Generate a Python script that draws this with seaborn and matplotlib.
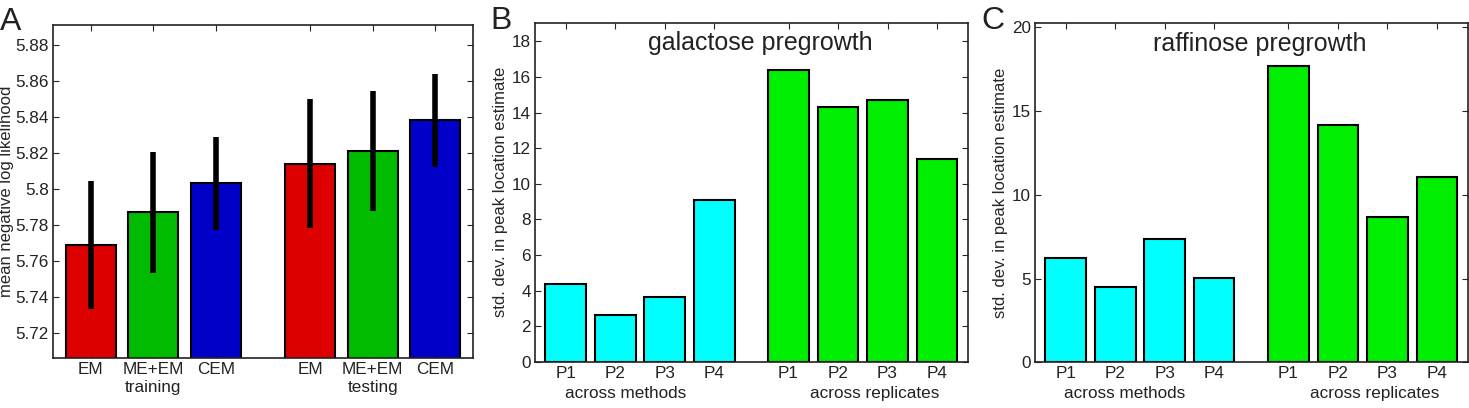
import matplotlib
matplotlib.use('Agg')
import matplotlib.pyplot as plt
import pandas as pd
import seaborn as sns

# panel A: mean negative log likelihood, training and testing
a_pos = [1, 2, 3, 4.5, 5.5, 6.5]
a_labels = ['EM', 'ME+EM', 'CEM', 'EM', 'ME+EM', 'CEM']
a_method = ['EM', 'ME+EM', 'CEM', 'EM', 'ME+EM', 'CEM']
a_vals = [5.769, 5.787, 5.803, 5.814, 5.821, 5.838]
a_err = [0.0355, 0.0335, 0.026, 0.036, 0.0335, 0.026]
a_groups = ['training', 'testing']
a_group_x = [2, 5.5]
a_yticks = [5.72, 5.74, 5.76, 5.78, 5.80, 5.82, 5.84, 5.86, 5.88]
a_yticklabels = ['5.72', '5.74', '5.76', '5.78', '5.8', '5.82', '5.84', '5.86', '5.88']

# panels B and C: std. dev. in peak location estimate
bc_pos = [1, 2, 3, 4, 5.5, 6.5, 7.5, 8.5]
bc_labels = ['P1', 'P2', 'P3', 'P4', 'P1', 'P2', 'P3', 'P4']
bc_kind = ['methods'] * 4 + ['replicates'] * 4
bc_groups = ['across methods', 'across replicates']
bc_group_x = [2.2, 7.25]
gal_vals = [4.35, 2.62, 3.66, 9.06, 16.4, 14.34, 14.72, 11.38]
raf_vals = [6.21, 4.48, 7.38, 5.06, 17.71, 14.17, 8.66, 11.08]

a_colors = {'EM': '#dd0000', 'ME+EM': '#00bb00', 'CEM': '#0000c8'}
bc_colors = {'methods': '#00ffff', 'replicates': '#00ee00'}

sns.set_style('ticks')
plt.rcParams['font.family'] = ['Liberation Sans', 'DejaVu Sans']
plt.rcParams['xtick.direction'] = 'in'
plt.rcParams['ytick.direction'] = 'in'
plt.rcParams['xtick.top'] = True
plt.rcParams['ytick.right'] = True
plt.rcParams['xtick.major.size'] = 4
plt.rcParams['ytick.major.size'] = 4
plt.rcParams['axes.linewidth'] = 1.2
plt.rcParams['axes.edgecolor'] = '#222222'
plt.rcParams['text.color'] = '#222222'
plt.rcParams['xtick.labelcolor'] = '#222222'
plt.rcParams['ytick.labelcolor'] = '#222222'

tick_fs = 12.3
lab_fs = 12
fig = plt.figure(figsize=(14.69, 4.08), dpi=100)
axA = fig.add_axes([0.0361, 0.1225, 0.2859, 0.8162])
axB = fig.add_axes([0.3642, 0.1135, 0.2946, 0.8309])
axC = fig.add_axes([0.7046, 0.1120, 0.2944, 0.8309])

# ---- A
dfa = pd.DataFrame({'pos': a_pos, 'val': a_vals, 'method': a_method})
sns.barplot(dfa, x='pos', y='val', hue='method', palette=a_colors, native_scale=True,
            dodge=False, width=0.8, saturation=1, edgecolor='black', linewidth=1.5,
            legend=False, ax=axA)
axA.errorbar(a_pos, a_vals, yerr=a_err, fmt='none', ecolor='black', elinewidth=4, capsize=0)
axA.set_xlim(0.4, 7.1)
axA.set_ylim(5.706, 5.891)
axA.set_xticks(a_pos, a_labels, fontsize=tick_fs)
axA.set_yticks(a_yticks, a_yticklabels, fontsize=tick_fs)
axA.set_xlabel('')
axA.set_ylabel('mean negative log likelihood', fontsize=lab_fs, labelpad=1)
for gx, g in zip(a_group_x, a_groups):
    axA.text(gx, -0.09, g, transform=axA.get_xaxis_transform(), ha='center', va='center',
             fontsize=tick_fs)

# ---- B and C
panels = [(axB, gal_vals, 'galactose pregrowth', (0, 19.05), [0, 2, 4, 6, 8, 10, 12, 14, 16, 18]),
          (axC, raf_vals, 'raffinose pregrowth', (0, 20.25), [0, 5, 10, 15, 20])]
for ax, vals, title, ylim, yt in panels:
    df = pd.DataFrame({'pos': bc_pos, 'val': vals, 'kind': bc_kind})
    sns.barplot(df, x='pos', y='val', hue='kind', palette=bc_colors, native_scale=True,
                dodge=False, width=0.82, saturation=1, edgecolor='black', linewidth=1.5,
                legend=False, ax=ax)
    ax.set_xlim(0.38, 9.12)
    ax.set_ylim(*ylim)
    ax.set_xticks(bc_pos, bc_labels, fontsize=tick_fs)
    ax.set_yticks(yt, [str(y) for y in yt], fontsize=tick_fs)
    ax.set_xlabel('')
    ax.set_ylabel('std. dev. in peak location estimate', fontsize=lab_fs, labelpad=3)
    ax.text(0.52, 0.94, title, transform=ax.transAxes, ha='center', va='center', fontsize=18)
    for gx, g in zip(bc_group_x, bc_groups):
        ax.text(gx, -0.093, g, transform=ax.get_xaxis_transform(), ha='center', va='center',
                fontsize=tick_fs)

for ax in (axA, axB, axC):
    for s in ax.spines.values():
        s.set_visible(True)
    ax.tick_params(pad=3)

fig.text(0.0, 0.946, 'A', fontsize=23, ha='left', va='center')
fig.text(0.3335, 0.948, 'B', fontsize=23, ha='left', va='center')
fig.text(0.668, 0.948, 'C', fontsize=23, ha='left', va='center')

fig.savefig('out.png', dpi=100)
